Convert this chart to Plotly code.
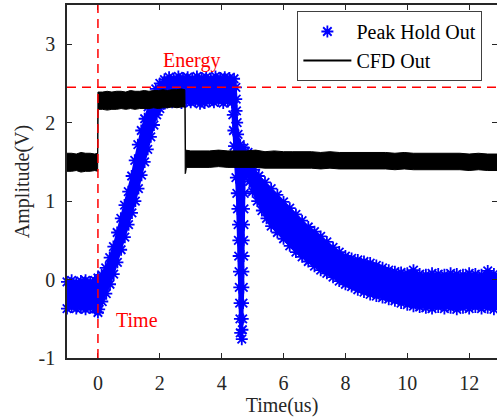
import plotly.graph_objects as go

# ---------------- data ----------------
# Peak Hold Out: outline of the dense band of samples (upper/left side, left -> right)
ph_upper = [
    (-1.0, -0.03), (-0.85, -0.01), (-0.7, -0.04), (-0.55, -0.02), (-0.4, -0.01), (-0.25, -0.03), (-0.1, -0.01),
    (0.0, 0.02), (0.12, 0.06), (0.25, 0.15), (0.38, 0.28), (0.5, 0.42), (0.62, 0.6), (0.74, 0.78),
    (0.86, 0.95), (0.98, 1.12), (1.09, 1.32), (1.19, 1.52), (1.29, 1.72), (1.4, 1.9), (1.51, 2.05),
    (1.62, 2.2), (1.74, 2.33), (1.87, 2.43), (2.0, 2.5), (2.15, 2.55),
    (2.3, 2.58), (2.45, 2.56), (2.6, 2.59), (2.75, 2.57), (2.9, 2.58), (3.05, 2.56), (3.2, 2.59),
    (3.35, 2.57), (3.5, 2.58), (3.65, 2.56), (3.8, 2.59), (3.95, 2.57), (4.1, 2.58), (4.25, 2.57), (4.4, 2.56),
    (4.46, 2.45), (4.47, 2.3), (4.48, 2.15), (4.5, 2.0), (4.53, 1.85), (4.6, 1.72), (4.72, 1.68),
    (4.85, 1.62), (4.95, 1.5), (5.05, 1.4), (5.2, 1.32), (5.4, 1.24), (5.6, 1.16), (5.8, 1.08), (6.0, 0.99),
    (6.2, 0.91), (6.4, 0.83), (6.6, 0.75), (6.8, 0.67), (7.0, 0.61), (7.2, 0.55), (7.4, 0.48), (7.6, 0.41),
    (7.8, 0.35), (8.0, 0.30), (8.2, 0.27), (8.4, 0.25), (8.6, 0.23), (8.8, 0.21), (9.0, 0.18), (9.2, 0.15),
    (9.4, 0.12), (9.6, 0.10), (9.8, 0.09), (10.0, 0.08), (10.2, 0.12), (10.4, 0.07), (10.6, 0.06),
    (10.8, 0.08), (11.0, 0.07), (11.2, 0.06), (11.4, 0.08), (11.6, 0.07), (11.8, 0.06), (12.0, 0.08),
    (12.2, 0.07), (12.4, 0.06), (12.6, 0.11), (12.8, 0.07), (12.95, 0.07),
]
# Peak Hold Out: lower/right side of the band (right -> left)
ph_lower = [
    (12.95, -0.36), (12.8, -0.38), (12.6, -0.36), (12.4, -0.37), (12.2, -0.35), (12.0, -0.37),
    (11.8, -0.36), (11.6, -0.38), (11.4, -0.36), (11.2, -0.37), (11.0, -0.35), (10.8, -0.37),
    (10.6, -0.36), (10.4, -0.35), (10.2, -0.34), (10.0, -0.32), (9.8, -0.30), (9.6, -0.27),
    (9.4, -0.25), (9.2, -0.23), (9.0, -0.21), (8.8, -0.19), (8.6, -0.16), (8.4, -0.13), (8.2, -0.09),
    (8.0, -0.06), (7.8, -0.02), (7.6, 0.03), (7.4, 0.08), (7.2, 0.12), (7.0, 0.17), (6.8, 0.23),
    (6.6, 0.29), (6.4, 0.35), (6.2, 0.43), (6.0, 0.52), (5.8, 0.60), (5.6, 0.68), (5.45, 0.78),
    (5.3, 0.88), (5.15, 1.0), (5.0, 1.12), (4.9, 1.25), (4.8, 1.38),
    (4.74, 1.3), (4.73, 1.1), (4.72, 0.9), (4.72, 0.7), (4.71, 0.5), (4.71, 0.3), (4.7, 0.1),
    (4.7, -0.1), (4.69, -0.3), (4.68, -0.5), (4.67, -0.64), (4.65, -0.76),
    (4.6, -0.68), (4.59, -0.5), (4.58, -0.3), (4.57, -0.1), (4.56, 0.1), (4.55, 0.3), (4.54, 0.5),
    (4.53, 0.7), (4.51, 0.9), (4.49, 1.1), (4.46, 1.3), (4.43, 1.5), (4.4, 1.7), (4.38, 1.9),
    (4.36, 2.1), (4.33, 2.26),
    (4.2, 2.27), (4.05, 2.25), (3.9, 2.28), (3.75, 2.26), (3.6, 2.27), (3.45, 2.25), (3.3, 2.24),
    (3.15, 2.27), (3.0, 2.26), (2.85, 2.27), (2.7, 2.25), (2.55, 2.27), (2.4, 2.26), (2.25, 2.27),
    (2.12, 2.24), (2.0, 2.18), (1.9, 2.10), (1.81, 1.97), (1.71, 1.82), (1.61, 1.66), (1.51, 1.5),
    (1.41, 1.33), (1.31, 1.16), (1.21, 1.0), (1.1, 0.85), (0.99, 0.70), (0.87, 0.54), (0.75, 0.38),
    (0.63, 0.22), (0.51, 0.07), (0.39, -0.06), (0.27, -0.18), (0.14, -0.28), (0.04, -0.38), (0.0, -0.42),
    (-0.1, -0.37), (-0.25, -0.36), (-0.4, -0.38), (-0.55, -0.36), (-0.7, -0.37), (-0.85, -0.35), (-1.0, -0.37),
]

# CFD Out: upper and lower envelope of the noisy trace (left -> right)
cfd_top = [
    (-1.0, 1.61), (-0.85, 1.61), (-0.7, 1.60), (-0.55, 1.62), (-0.4, 1.61), (-0.25, 1.61), (-0.1, 1.60), (-0.01, 1.61),
    (0.0, 2.39), (0.15, 2.39), (0.3, 2.40), (0.45, 2.39), (0.6, 2.40), (0.75, 2.40), (0.9, 2.39), (1.05, 2.41),
    (1.2, 2.40), (1.35, 2.40), (1.5, 2.41), (1.65, 2.40), (1.8, 2.41), (1.95, 2.41), (2.1, 2.42), (2.25, 2.41),
    (2.4, 2.42), (2.55, 2.42), (2.7, 2.43), (2.81, 2.42),
    (2.83, 1.65), (3.0, 1.64), (3.3, 1.64), (3.6, 1.64), (3.9, 1.65), (4.2, 1.64), (4.5, 1.64), (4.8, 1.64),
    (5.1, 1.65), (5.4, 1.63), (5.7, 1.64), (6.0, 1.63), (6.3, 1.63), (6.6, 1.63), (6.9, 1.63), (7.2, 1.62),
    (7.5, 1.63), (7.8, 1.62), (8.1, 1.62), (8.4, 1.62), (8.7, 1.62), (9.0, 1.62), (9.3, 1.62), (9.6, 1.61),
    (9.9, 1.62), (10.2, 1.61), (10.5, 1.61), (10.8, 1.61), (11.1, 1.61), (11.4, 1.61), (11.7, 1.61),
    (12.0, 1.60), (12.3, 1.61), (12.6, 1.60), (12.9, 1.60),
]
cfd_bottom = [
    (-1.0, 1.38), (-0.85, 1.38), (-0.7, 1.39), (-0.55, 1.37), (-0.4, 1.38), (-0.25, 1.38), (-0.1, 1.39), (-0.01, 1.38),
    (0.005, 2.17), (0.15, 2.17), (0.3, 2.16), (0.45, 2.17), (0.6, 2.17), (0.75, 2.18), (0.9, 2.17), (1.05, 2.18),
    (1.2, 2.17), (1.35, 2.18), (1.5, 2.18), (1.65, 2.18), (1.8, 2.19), (1.95, 2.18), (2.1, 2.19), (2.25, 2.19),
    (2.4, 2.20), (2.55, 2.19), (2.7, 2.20), (2.815, 2.20),
    (2.82, 1.35), (2.835, 1.36), (2.86, 1.43), (3.0, 1.43), (3.3, 1.43), (3.6, 1.43), (3.9, 1.44), (4.2, 1.43),
    (4.5, 1.43), (4.8, 1.43), (5.1, 1.43), (5.4, 1.42), (5.7, 1.42), (6.0, 1.42), (6.3, 1.42), (6.6, 1.42),
    (6.9, 1.42), (7.2, 1.41), (7.5, 1.42), (7.8, 1.41), (8.1, 1.41), (8.4, 1.41), (8.7, 1.41), (9.0, 1.41),
    (9.3, 1.41), (9.6, 1.40), (9.9, 1.41), (10.2, 1.40), (10.5, 1.40), (10.8, 1.40), (11.1, 1.40),
    (11.4, 1.40), (11.7, 1.40), (12.0, 1.39), (12.3, 1.40), (12.6, 1.39), (12.9, 1.39),
]

energy_level = 2.45     # horizontal red dashed marker (V)
time_mark = 0.0         # vertical red dashed marker (us)

x_range = [-1.0, 12.9]
y_range = [-1.0, 3.5]
x_ticks = [0, 2, 4, 6, 8, 10, 12]
x_ticklabels = ["0", "2", "4", "6", "8", "10", "12"]
y_ticks = [-1, 0, 1, 2, 3]
y_ticklabels = ["-1", "0", "1", "2", "3"]

# ---------------- figure ----------------
FONT = "Liberation Serif, Times New Roman, serif"
AX = "#262626"
BLUE = "#0000FF"

ph_outline = ph_upper + ph_lower
ph_x = [p[0] for p in ph_outline]
ph_y = [p[1] for p in ph_outline]

cfd_outline = cfd_top + cfd_bottom[::-1]
cfd_x = [p[0] for p in cfd_outline]
cfd_y = [p[1] for p in cfd_outline]

fig = go.Figure()

fig.add_trace(go.Scatter(
    x=ph_x, y=ph_y, mode="lines", fill="toself", fillcolor=BLUE,
    line=dict(color=BLUE, width=2), showlegend=False, hoverinfo="skip"))
fig.add_trace(go.Scatter(
    x=ph_x, y=ph_y, mode="markers", name="Peak Hold Out", cliponaxis=False,
    marker=dict(symbol="asterisk-open", size=10, color=BLUE,
                line=dict(color=BLUE, width=1.8))))
fig.add_trace(go.Scatter(
    x=cfd_x, y=cfd_y, mode="lines", fill="toself", fillcolor="black",
    line=dict(color="black", width=1), showlegend=False, hoverinfo="skip"))
fig.add_trace(go.Scatter(
    x=[None], y=[None], mode="lines", name="CFD Out",
    line=dict(color="black", width=2)))

fig.add_vline(x=time_mark, line=dict(color="red", width=1.5, dash="9px,6px"), layer="above")
fig.add_hline(y=energy_level, line=dict(color="red", width=1.5, dash="9px,6px"), layer="above")

fig.add_annotation(x=3.03, y=2.79, text="Energy", showarrow=False,
                   font=dict(family=FONT, size=20, color="red"), xanchor="center", yanchor="middle")
fig.add_annotation(x=1.26, y=-0.52, text="Time", showarrow=False,
                   font=dict(family=FONT, size=20, color="red"), xanchor="center", yanchor="middle")

axis_common = dict(
    showgrid=False, zeroline=False, showline=True, linecolor=AX, linewidth=1.5,
    mirror="ticks", ticks="inside", ticklen=5, tickwidth=1, tickcolor=AX,
    tickfont=dict(family=FONT, size=20, color=AX), automargin=False,
)
fig.update_xaxes(range=x_range, tickvals=x_ticks, ticktext=x_ticklabels,
                 title=dict(text="Time(us)", font=dict(family=FONT, size=20, color=AX), standoff=4),
                 ticklabelstandoff=6, **axis_common)
fig.update_yaxes(range=y_range, tickvals=y_ticks, ticktext=y_ticklabels,
                 title=dict(text="Amplitude(V)", font=dict(family=FONT, size=20, color=AX), standoff=4),
                 ticklabelstandoff=6, **axis_common)

fig.update_layout(
    width=497, height=420,
    margin=dict(l=67, r=0, t=5, b=62),
    paper_bgcolor="white", plot_bgcolor="white",
    font=dict(family=FONT, size=20, color="black"),
    legend=dict(x=0.966, y=0.983, xanchor="right", yanchor="top",
                bgcolor="white", bordercolor="#404040", borderwidth=1,
                font=dict(family=FONT, size=20, color="black"),
                itemwidth=48, tracegroupgap=0),
)

# the page body has a default 8px margin; remove it so the figure sits at the window origin
fig.write_html("out.html", config={"displayModeBar": False},
               post_script="document.body.style.margin='0';")
